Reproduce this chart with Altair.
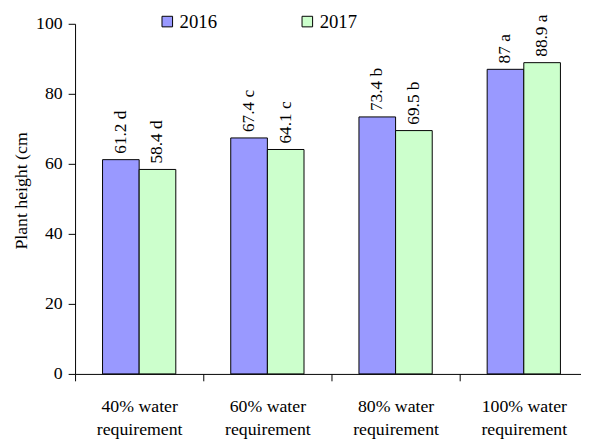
import altair as alt
import pandas as pd

levels = ["40% water requirement", "60% water requirement",
          "80% water requirement", "100% water requirement"]
years = ["2016", "2017"]
h2016 = [61.2, 67.4, 73.4, 87]
h2017 = [58.4, 64.1, 69.5, 88.9]
let2016 = ["d", "c", "b", "a"]
let2017 = ["d", "c", "b", "a"]
colors = ["#9999FF", "#CCFFCC"]

rows = []
for lv, v, l in zip(levels, h2016, let2016):
    rows.append({"level": lv, "year": "2016", "h": v, "lab": f"{v:g} {l}"})
for lv, v, l in zip(levels, h2017, let2017):
    rows.append({"level": lv, "year": "2017", "h": v, "lab": f"{v:g} {l}"})
df = pd.DataFrame(rows)

FONT = "Times New Roman, Liberation Serif, DejaVu Serif, serif"

x = alt.X("level:N", sort=levels, title=None,
          scale=alt.Scale(range=[0, 520], paddingInner=0, paddingOuter=0),
          axis=alt.Axis(labelAngle=0, tickBand="extent", tickSize=7,
                        labelFontSize=18, labelFont=FONT, labelColor="black",
                        labelPadding=17, labelLineHeight=23, labelLimit=200,
                        labelOverlap=False,
                        labelExpr="datum.label ? [replace(datum.label, ' requirement', ''), 'requirement'] : ''",
                        domainColor="black", tickColor="black"))
xo = alt.XOffset("year:N", sort=years, scale=alt.Scale(paddingOuter=0.75, paddingInner=0))
y = alt.Y("h:Q", scale=alt.Scale(domain=[0, 100], nice=False),
          axis=alt.Axis(values=[0, 20, 40, 60, 80, 100], grid=False, tickSize=7,
                        labelFontSize=18, labelFont=FONT, labelColor="black",
                        labelPadding=6, domainColor="black", tickColor="black",
                        title="Plant height (cm", titleFont=FONT, titleFontSize=18,
                        titleFontWeight="normal", titleColor="black",
                        titleX=-54, titleY=169, titleAngle=270,
                        titleAlign="center", titleBaseline="middle"))

bars = alt.Chart(df).mark_bar(stroke="black", strokeWidth=1, opacity=1).encode(
    x=x, xOffset=xo, y=y,
    color=alt.Color("year:N", sort=years,
                    scale=alt.Scale(domain=years, range=colors),
                    legend=alt.Legend(title=None, orient="none", legendX=84, legendY=-12,
                                      direction="horizontal", symbolType="square",
                                      symbolSize=115, symbolStrokeColor="black",
                                      symbolStrokeWidth=1, symbolOpacity=1,
                                      labelFont=FONT, labelFontSize=19, labelColor="black",
                                      labelOffset=3, columnPadding=82, padding=0))
)

text = alt.Chart(df).mark_text(angle=270, align="left", baseline="middle", dx=6,
                               font=FONT, fontSize=17.5, color="black").encode(
    x=x, xOffset=xo, y=y, text="lab:N")

chart = alt.layer(bars, text).properties(
    width=513, height=355,
    autosize=alt.AutoSizeParams(type="none"),
    padding={"left": 68, "top": 13, "right": 0, "bottom": 65},
).configure_view(stroke=None)

chart.save("out.html", embed_options={"renderer": "svg", "actions": False})
